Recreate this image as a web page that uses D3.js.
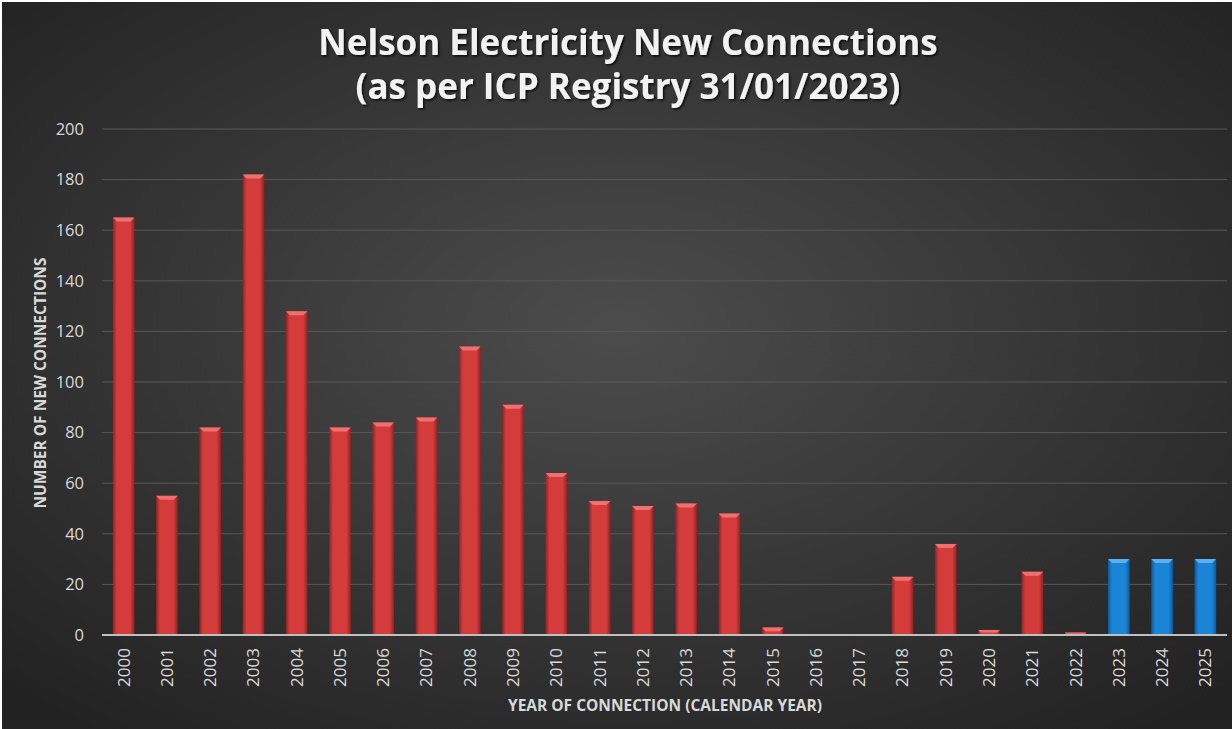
<!DOCTYPE html>
<html>
<head>
<meta charset="utf-8">
<script src="https://cdn.jsdelivr.net/npm/d3@7"></script>
<style>
  body { margin: 0; background: #fff; }
  svg { display: block; }
</style>
</head>
<body>
<div id="chart"></div>
<script>
// data
const years = ['2000','2001','2002','2003','2004','2005','2006','2007','2008','2009','2010','2011','2012',
  '2013','2014','2015','2016','2017','2018','2019','2020','2021','2022','2023','2024','2025']
const connections = [165,55,82,182,128,82,84,86,114,91,64,53,51,52,48,3,0,0,23,36,2,25,1,30,30,30]
const forecast = ['2023','2024','2025']
const yTicks = [0,20,40,60,80,100,120,140,160,180,200]

const titleLines = ['Nelson Electricity New Connections', '(as per ICP Registry 31/01/2023)']

const W = 1232, H = 729
const margin = { top: 129, right: 5, bottom: 94, left: 102 }

const svg = d3.select('#chart').append('svg')
    .attr('width', W)
    .attr('height', H)

const defs = svg.append('defs')

// background: dark radial gradient
const bg = defs.append('radialGradient').attr('id', 'bg')
    .attr('cx', '50%').attr('cy', '45%').attr('r', '70%')
bg.append('stop').attr('offset', '0%').attr('stop-color', '#4c4c4c')
bg.append('stop').attr('offset', '100%').attr('stop-color', '#222')

function barGrad(id, edge, mid) {
    const g = defs.append('linearGradient').attr('id', id)
        .attr('x1', 0).attr('x2', 1).attr('y1', 0).attr('y2', 0)
    g.append('stop').attr('offset', '0%').attr('stop-color', edge)
    g.append('stop').attr('offset', '18%').attr('stop-color', mid)
    g.append('stop').attr('offset', '80%').attr('stop-color', mid)
    g.append('stop').attr('offset', '100%').attr('stop-color', edge)
}
barGrad('redBar', '#8e2222', '#d43c3c')
barGrad('blueBar', '#0d5a9e', '#1a84d6')

const shadow = defs.append('filter').attr('id', 'tshadow')
    .attr('x', '-5%').attr('y', '-20%').attr('width', '110%').attr('height', '140%')
shadow.append('feDropShadow').attr('dx', 1.5).attr('dy', 1.5).attr('stdDeviation', 1.2)
    .attr('flood-color', '#000').attr('flood-opacity', 0.8)

svg.append('rect')
    .attr('x', 2).attr('y', 2)
    .attr('width', W - 2).attr('height', H - 2)
    .attr('fill', 'url(#bg)')

const x = d3.scaleBand()
    .domain(years)
    .range([margin.left, W - margin.right])
    .paddingInner(0.5)
    .paddingOuter(0.25)

const y = d3.scaleLinear()
    .domain([0, 200])
    .range([H - margin.bottom, margin.top])

// gridlines
svg.append('g')
    .selectAll('line')
    .data(yTicks.filter(d => d > 0))
    .join('line')
    .attr('x1', margin.left).attr('x2', W - margin.right)
    .attr('y1', d => y(d)).attr('y2', d => y(d))
    .attr('stroke', '#585858')
    .attr('stroke-width', 1)

// y axis labels
const yAxis = svg.append('g')
    .attr('transform', 'translate(' + (margin.left - 18) + ',0)')
    .call(d3.axisLeft(y).tickValues(yTicks).tickSize(0).tickPadding(0))
yAxis.select('.domain').remove()
yAxis.selectAll('text')
    .attr('fill', '#d9d9d9')
    .style('font-family', 'Open Sans, sans-serif')
    .style('font-size', '16.5px')

// bars
const bars = svg.append('g')
    .selectAll('g')
    .data(years.map((yr, i) => ({ year: yr, value: connections[i] })))
    .join('g')

bars.append('rect')
    .attr('x', d => x(d.year))
    .attr('y', d => y(d.value))
    .attr('width', x.bandwidth())
    .attr('height', d => y(0) - y(d.value))
    .attr('fill', d => forecast.includes(d.year) ? 'url(#blueBar)' : 'url(#redBar)')

// bevelled top cap
bars.filter(d => d.value > 0)
    .append('path')
    .attr('d', d => {
        const x0 = x(d.year), x1 = x0 + x.bandwidth(), top = y(d.value)
        const b = Math.min(4, (y(0) - top) / 2)
        return 'M' + x0 + ',' + top + 'L' + x1 + ',' + top + 'L' + (x1 - b) + ',' + (top + b) +
            'L' + (x0 + b) + ',' + (top + b) + 'Z'
    })
    .attr('fill', d => forecast.includes(d.year) ? '#5ab0f0' : '#f07070')

// baseline
svg.append('line')
    .attr('x1', margin.left).attr('x2', W - margin.right)
    .attr('y1', y(0)).attr('y2', y(0))
    .attr('stroke', '#bfbfbf')
    .attr('stroke-width', 2)

// x axis labels
const xAxis = svg.append('g')
    .attr('transform', 'translate(0,' + (y(0) + 13) + ')')
    .call(d3.axisBottom(x).tickSize(0).tickPadding(0))
xAxis.select('.domain').remove()
xAxis.selectAll('text')
    .attr('fill', '#d9d9d9')
    .attr('transform', 'rotate(-90)')
    .attr('text-anchor', 'end')
    .attr('dx', 0)
    .attr('dy', '0.35em')
    .attr('y', 0)
    .style('font-family', 'Open Sans, sans-serif')
    .style('font-size', '17px')

// axis titles
svg.append('text')
    .attr('x', 665)
    .attr('y', 711)
    .attr('text-anchor', 'middle')
    .attr('fill', '#d9d9d9')
    .style('font-family', 'Open Sans, sans-serif')
    .style('font-weight', 700)
    .style('font-size', '15.5px')
    .text('YEAR OF CONNECTION (CALENDAR YEAR)')

svg.append('text')
    .attr('transform', 'translate(46,383) rotate(-90)')
    .attr('text-anchor', 'middle')
    .attr('fill', '#d9d9d9')
    .style('font-family', 'Open Sans, sans-serif')
    .style('font-weight', 700)
    .style('font-size', '15.5px')
    .text('NUMBER OF NEW CONNECTIONS')

// title
svg.append('g')
    .selectAll('text')
    .data(titleLines)
    .join('text')
    .attr('x', 628)
    .attr('y', (d, i) => 55 + i * 44)
    .attr('text-anchor', 'middle')
    .attr('fill', '#f2f2f2')
    .attr('filter', 'url(#tshadow)')
    .style('font-family', 'Open Sans, sans-serif')
    .style('font-weight', 700)
    .style('font-size', '35px')
    .text(d => d)
</script>
</body>
</html>
